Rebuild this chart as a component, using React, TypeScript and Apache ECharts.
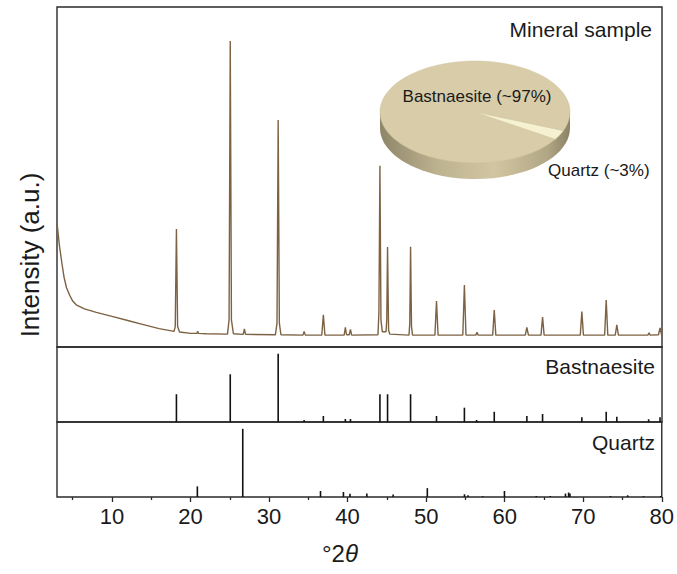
import React, { useEffect, useRef } from "react";
import * as echarts from "echarts";

// ---- Data ----
// Measured XRD pattern of the mineral sample: [°2θ, intensity (a.u.)]
const patternPoints: [number, number][] = [
  [3.0, 36.5], [3.3, 30], [3.6, 25], [3.9, 20.5], [4.2, 17.5], [4.6, 15.3],
  [5.0, 13.5], [5.5, 12.3], [6.5, 11.2], [8.0, 10.2], [10.0, 9.0], [12.0, 7.8],
  [14.0, 6.6], [16.0, 5.4], [17.9, 4.6], [18.05, 6], [18.2, 34.7], [18.35, 6],
  [18.6, 4.4], [20.0, 4.0], [20.8, 4.0], [20.9, 4.6], [21.0, 4.0], [22.0, 3.9],
  [24.7, 3.8], [24.9, 8], [25.05, 90], [25.2, 8], [25.45, 3.9], [26.7, 3.7],
  [26.85, 5.3], [27.0, 3.7], [30.8, 3.6], [31.0, 7], [31.15, 66.8], [31.3, 7],
  [31.5, 3.6], [34.3, 3.5], [34.45, 4.6], [34.6, 3.5], [36.7, 3.5], [36.9, 9.5],
  [37.1, 3.5], [39.55, 3.5], [39.7, 5.8], [39.85, 3.6], [40.2, 3.6], [40.35, 5.2],
  [40.5, 3.5], [43.85, 3.6], [43.97, 10], [44.1, 53.3], [44.23, 8], [44.4, 4.5],
  [44.88, 4.5], [44.97, 8], [45.07, 29.4], [45.2, 5], [45.35, 3.8], [47.8, 3.5],
  [47.9, 7], [48.0, 29.5], [48.12, 6], [48.25, 3.5], [51.1, 3.5], [51.3, 13.5],
  [51.5, 3.5], [54.65, 3.5], [54.85, 18.2], [55.05, 3.5], [56.3, 3.5], [56.45, 4.3],
  [56.6, 3.5], [58.45, 3.5], [58.65, 10.9], [58.85, 3.5], [62.6, 3.5], [62.8, 5.8],
  [63.0, 3.5], [64.6, 3.5], [64.8, 8.8], [65.0, 3.5], [69.6, 3.5], [69.8, 10.4],
  [70.0, 3.5], [72.7, 3.5], [72.9, 13.8], [73.1, 3.5], [74.05, 3.5], [74.25, 6.5],
  [74.45, 3.5], [78.2, 3.5], [78.35, 4.2], [78.5, 3.5], [79.55, 3.6], [79.75, 5.6],
  [79.95, 3.6], [80.0, 3.5],
];

// Reference pattern of bastnaesite: [°2θ, relative intensity]
const bastnaesiteSticks: [number, number][] = [
  [18.2, 40.7], [25.05, 70], [31.15, 100], [34.45, 3], [36.9, 8.8], [39.7, 4.4],
  [40.35, 4.4], [44.1, 40.7], [45.07, 40.7], [48.0, 40.7], [51.3, 8.8], [54.85, 21],
  [56.4, 3], [58.65, 15], [62.8, 8.8], [64.8, 11.7], [69.8, 6.9], [72.9, 15],
  [74.25, 7.8], [78.3, 4], [79.75, 6.9],
];

// Reference pattern of quartz: [°2θ, relative intensity]
const quartzSticks: [number, number][] = [
  [20.87, 15.6], [26.65, 100], [36.55, 8.8], [39.47, 7.3], [40.3, 4.9], [42.45, 5],
  [45.8, 3.5], [50.15, 13], [54.88, 4], [55.33, 2.5], [57.2, 1.2], [59.97, 8.8],
  [64.03, 1.5], [65.8, 1.5], [67.74, 5], [68.14, 6.5], [68.31, 5], [73.47, 1.5],
  [75.66, 2.5], [77.68, 1.2], [79.88, 1.5],
];

// Phase composition shown in the inset pie (%)
const phaseNames = ["Bastnaesite", "Quartz"];
const phaseShares = [97, 3];

// Axis tick values
const majorTicks = [10, 20, 30, 40, 50, 60, 70, 80];
const minorTicks = [5, 15, 25, 35, 45, 55, 65, 75];

const FONT = "'Liberation Sans', Arial, Helvetica, sans-serif";

export default function App() {
  const ref = useRef<HTMLDivElement>(null);

  useEffect(() => {
    if (!ref.current) return;
    const chart = echarts.init(ref.current, null, { renderer: "svg" });

    const X_MIN = 3;
    const X_MAX = 80;
    const left = 57;
    const width = 605;

    const stickSeries = (data: [number, number][], idx: number, name: string) => ({
      type: "custom",
      name,
      xAxisIndex: idx,
      yAxisIndex: idx,
      data,
      encode: { x: 0, y: 1 },
      clip: true,
      renderItem: (_params: any, api: any) => {
        const x = api.value(0);
        const y = api.value(1);
        const p0 = api.coord([x, 0]);
        const p1 = api.coord([x, y]);
        return {
          type: "line",
          shape: { x1: p0[0], y1: p0[1], x2: p1[0], y2: p1[1] },
          style: { stroke: "#111", lineWidth: 1.6 },
        };
      },
    });

    // Inset 3D pie geometry
    const pcx = 475;
    const pcy = 112;
    const prx = 95;
    const pry = 51;
    const depth = 16;
    const total = phaseShares.reduce((a, b) => a + b, 0);
    const qStart = (21.5 * Math.PI) / 180;
    const qEnd = qStart + (phaseShares[1] / total) * Math.PI * 2;

    const sideGradient = new echarts.graphic.LinearGradient(0, 0, 1, 0, [
      { offset: 0, color: "#8f866a" },
      { offset: 0.3, color: "#bdb28f" },
      { offset: 0.6, color: "#d2c6a2" },
      { offset: 0.88, color: "#b2a785" },
      { offset: 1, color: "#8b8265" },
    ]);

    const option: any = {
      animation: false,
      backgroundColor: "#fff",
      grid: [
        { left, width, top: 7, height: 340, show: true, borderColor: "#2a2a2a", borderWidth: 1.4, backgroundColor: "transparent" },
        { left, width, top: 347, height: 75, show: true, borderColor: "#2a2a2a", borderWidth: 1.4, backgroundColor: "transparent" },
        { left, width, top: 422, height: 75, show: true, borderColor: "#2a2a2a", borderWidth: 1.4, backgroundColor: "transparent" },
        { left, width, top: 422, height: 75, show: false },
      ],
      xAxis: [
        { type: "value", gridIndex: 0, min: X_MIN, max: X_MAX, show: false },
        { type: "value", gridIndex: 1, min: X_MIN, max: X_MAX, show: false },
        {
          type: "value",
          gridIndex: 2,
          min: X_MIN,
          max: X_MAX,
          position: "bottom",
          axisLine: { show: false },
          splitLine: { show: false },
          axisTick: {
            show: true,
            customValues: majorTicks,
            length: 5,
            inside: false,
            lineStyle: { color: "#2a2a2a", width: 1.3 },
          },
          axisLabel: {
            show: true,
            customValues: majorTicks,
            margin: 8,
            color: "#1a1a1a",
            fontSize: 22,
            fontFamily: FONT,
          },
        },
        {
          type: "value",
          gridIndex: 3,
          min: X_MIN,
          max: X_MAX,
          position: "bottom",
          axisLine: { show: false },
          splitLine: { show: false },
          axisLabel: { show: false },
          axisTick: {
            show: true,
            customValues: minorTicks,
            length: 3,
            inside: false,
            lineStyle: { color: "#2a2a2a", width: 1.3 },
          },
        },
      ],
      yAxis: [
        { type: "value", gridIndex: 0, min: 0, max: 100, show: false },
        { type: "value", gridIndex: 1, min: 0, max: 110, show: false },
        { type: "value", gridIndex: 2, min: 0, max: 110, show: false },
        { type: "value", gridIndex: 3, min: 0, max: 110, show: false },
      ],
      series: [
        {
          type: "line",
          name: "Mineral sample",
          xAxisIndex: 0,
          yAxisIndex: 0,
          data: patternPoints,
          showSymbol: false,
          symbol: "none",
          lineStyle: { color: "#7c6243", width: 1.4 },
          itemStyle: { color: "#7c6243" },
        },
        stickSeries(bastnaesiteSticks, 1, "Bastnaesite"),
        stickSeries(quartzSticks, 2, "Quartz"),
      ],
      graphic: [
        {
          type: "text",
          x: 652,
          y: 29,
          style: { text: "Mineral sample", font: `21px ${FONT}`, fill: "#1a1a1a", textAlign: "right", textVerticalAlign: "middle" },
        },
        {
          type: "text",
          x: 655,
          y: 366,
          style: { text: "Bastnaesite", font: `21px ${FONT}`, fill: "#1a1a1a", textAlign: "right", textVerticalAlign: "middle" },
        },
        {
          type: "text",
          x: 655,
          y: 442,
          style: { text: "Quartz", font: `21px ${FONT}`, fill: "#1a1a1a", textAlign: "right", textVerticalAlign: "middle" },
        },
        {
          type: "text",
          x: 30,
          y: 255,
          rotation: Math.PI / 2,
          style: { text: "Intensity (a.u.)", font: `26px ${FONT}`, fill: "#1a1a1a", textAlign: "center", textVerticalAlign: "middle" },
        },
        {
          type: "text",
          x: 340,
          y: 553,
          style: {
            text: "{a|°2}{b|θ}",
            textAlign: "center",
            textVerticalAlign: "middle",
            rich: {
              a: { font: `24px ${FONT}`, fill: "#1a1a1a" },
              b: { font: `italic 24px ${FONT}`, fill: "#1a1a1a" },
            },
          },
        },
        // inset 3D pie: bottom ellipse + side band + top face
        {
          type: "ellipse",
          shape: { cx: pcx, cy: pcy + depth, rx: prx, ry: pry },
          style: { fill: sideGradient },
        },
        {
          type: "rect",
          shape: { x: pcx - prx, y: pcy, width: prx * 2, height: depth },
          style: { fill: sideGradient },
        },
        {
          type: "sector",
          x: pcx,
          y: pcy,
          scaleY: pry / prx,
          shape: { cx: 0, cy: 0, r0: 0, r: prx, startAngle: qEnd, endAngle: qStart + Math.PI * 2, clockwise: true },
          style: { fill: "#d8cca9", stroke: "#cbbf9b", lineWidth: 0.6 },
        },
        {
          type: "sector",
          x: pcx,
          y: pcy,
          scaleY: pry / prx,
          shape: { cx: 0, cy: 0, r0: 0, r: prx, startAngle: qStart, endAngle: qEnd, clockwise: true },
          style: { fill: "#f6f1d0", stroke: "#d8cfa8", lineWidth: 0.6 },
        },
        {
          type: "text",
          x: 477,
          y: 96,
          style: { text: `${phaseNames[0]} (~${phaseShares[0]}%)`, font: `17px ${FONT}`, fill: "#1a1a1a", textAlign: "center", textVerticalAlign: "middle" },
        },
        {
          type: "text",
          x: 548,
          y: 170,
          style: { text: `${phaseNames[1]} (~${phaseShares[1]}%)`, font: `17px ${FONT}`, fill: "#1a1a1a", textAlign: "left", textVerticalAlign: "middle" },
        },
      ],
    };

    chart.setOption(option);
    return () => chart.dispose();
  }, []);

  return (
    <div
      ref={ref}
      style={{ position: "fixed", left: 0, top: 0, width: 677, height: 574, background: "#fff" }}
    />
  );
}
